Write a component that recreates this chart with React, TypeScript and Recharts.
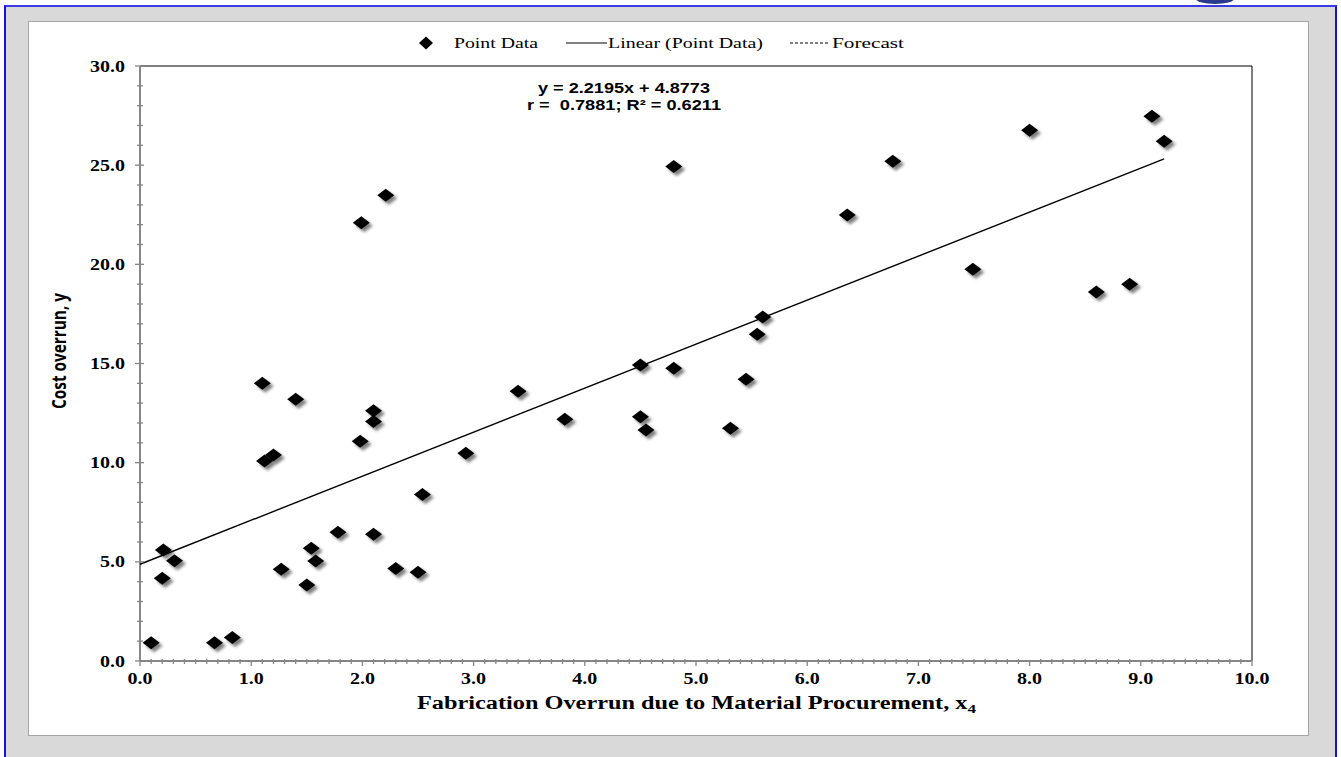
import React from 'react';
import { ScatterChart, Scatter, XAxis, YAxis, ReferenceLine, Legend } from 'recharts';

// ---- data ----
const pointX = [0.10, 0.20, 0.21, 0.31, 0.67, 0.83, 1.10, 1.12, 1.20, 1.27, 1.40, 1.50, 1.54, 1.58, 1.78, 1.98, 1.99, 2.10, 2.10, 2.10, 2.21, 2.30, 2.50, 2.54, 2.93, 3.40, 3.82, 4.50, 4.50, 4.55, 4.80, 4.80, 5.31, 5.45, 5.55, 5.60, 6.36, 6.77, 7.49, 8.00, 8.60, 8.90, 9.10, 9.21];
const pointY = [0.92, 4.17, 5.60, 5.06, 0.92, 1.19, 14.0, 10.09, 10.39, 4.62, 13.2, 3.83, 5.68, 5.04, 6.49, 11.08, 22.1, 12.62, 12.07, 6.39, 23.48, 4.67, 4.47, 8.40, 10.47, 13.6, 12.19, 14.93, 12.32, 11.65, 24.93, 14.76, 11.73, 14.2, 16.47, 17.35, 22.49, 25.2, 19.75, 26.76, 18.6, 19.0, 27.47, 26.2];

const slope = 2.2195;
const intercept = 4.8773;
const trendRange = [0, 9.21];

const xTickValues = Array.from({ length: 101 }, (_, i) => i / 10);
const yTickValues = Array.from({ length: 31 }, (_, i) => i);
const xDomain = [0, 10];
const yDomain = [0, 30];

const legendLabels = ['Point Data', 'Linear (Point Data)', 'Forecast'];
const equationLines = ['y = 2.2195x + 4.8773', 'r =  0.7881; R\u00B2 = 0.6211'];
const xTitle = 'Fabrication Overrun due to Material Procurement, x';
const xTitleSub = '4';
const yTitle = 'Cost overrun, y';

const points = pointX.map((x, i) => ({ x, y: pointY[i] }));
const trendData = trendRange.map((x) => ({ x, y: slope * x + intercept }));

const AXIS = '#868686';
const SERIF = '"Liberation Serif", "Times New Roman", serif';
const SANS = '"Liberation Sans", Arial, sans-serif';

function labelWidth(s: string, fs: number) {
  let w = 0;
  for (const ch of s) w += ch === '.' ? 0.25 : 0.5;
  return w * fs * 1.25;
}

function XTick(props: any) {
  const { x, y, payload } = props;
  const v = payload.value as number;
  const major = Math.round(v * 10) % 10 === 0;
  const label = v.toFixed(1);
  return (
    <g>
      <line x1={x} x2={x} y1={major ? y - 1 : y - 2} y2={major ? y + 5 : y + 3} stroke={AXIS} strokeWidth={1.3} />
      {major && (
        <text x={x} y={y + 23} textAnchor="middle" fontFamily={SERIF} fontWeight="bold" fontSize={16}
          textLength={labelWidth(label, 16)} lengthAdjust="spacingAndGlyphs" fill="#000">{label}</text>
      )}
    </g>
  );
}

function YTick(props: any) {
  const { x, y, payload } = props;
  const v = payload.value as number;
  const major = Math.round(v) % 5 === 0;
  const label = v.toFixed(1);
  return (
    <g>
      <line x1={major ? x - 5 : x - 3} x2={major ? x + 4 : x + 3} y1={y} y2={y} stroke={AXIS} strokeWidth={1.3} />
      {major && (
        <text x={x - 15} y={y + 5.5} textAnchor="end" fontFamily={SERIF} fontWeight="bold" fontSize={16}
          textLength={labelWidth(label, 16)} lengthAdjust="spacingAndGlyphs" fill="#000">{label}</text>
      )}
    </g>
  );
}

function Diamond(props: any) {
  const { cx, cy } = props;
  if (cx == null || cy == null) return <g />;
  const w = 8.5, h = 6.5;
  const pts = `${cx - w},${cy} ${cx},${cy - h} ${cx + w},${cy} ${cx},${cy + h}`;
  const spts = `${cx - w + 3},${cy + 3} ${cx + 3},${cy - h + 3} ${cx + w + 3},${cy + 3} ${cx + 3},${cy + h + 3}`;
  return (
    <g>
      <polygon points={spts} fill="rgba(0,0,0,0.5)" filter="url(#diaShadow)" />
      <polygon points={pts} fill="#000" />
    </g>
  );
}

function NoShape() {
  return <g />;
}

function LegendContent() {
  const ty = 48;
  return (
    <svg width={1341} height={60} style={{ display: 'block', overflow: 'visible' }}>
      <polygon points="419,43 426,36.5 433,43 426,49.5" fill="#000" />
      <text x={454} y={ty} fontFamily={SERIF} fontSize={15} textLength={84} lengthAdjust="spacingAndGlyphs" fill="#000">{legendLabels[0]}</text>
      <line x1={566} x2={607} y1={43} y2={43} stroke="#000" strokeWidth={1} />
      <text x={608} y={ty} fontFamily={SERIF} fontSize={15} textLength={155} lengthAdjust="spacingAndGlyphs" fill="#000">{legendLabels[1]}</text>
      <line x1={790} x2={828} y1={43} y2={43} stroke="#000" strokeWidth={1} strokeDasharray="3 2" />
      <text x={832} y={ty} fontFamily={SERIF} fontSize={15} textLength={72} lengthAdjust="spacingAndGlyphs" fill="#000">{legendLabels[2]}</text>
    </svg>
  );
}

export default function App() {
  return (
    <div style={{ position: 'absolute', left: 0, top: 0, width: 1341, height: 757, overflow: 'hidden', background: '#fff' }}>
      {/* frame */}
      <div style={{ position: 'absolute', left: 1196, top: -6, width: 38, height: 10, borderRadius: '50%', background: '#2a3a8c' }} />
      <div style={{ position: 'absolute', left: 4, top: 5, width: 1329, height: 770, background: '#d9d9d9', borderLeft: '2px solid #1414d2', borderTop: '2px solid #3a3ae0', borderRight: '2px solid #1414d2', boxSizing: 'content-box' }} />
      <div style={{ position: 'absolute', left: 28, top: 21, width: 1279, height: 713, background: '#fff', border: '1px solid #a6a6a6' }} />

      <svg width={0} height={0} style={{ position: 'absolute' }}>
        <defs>
          <filter id="diaShadow" x="-50%" y="-50%" width="200%" height="200%">
            <feGaussianBlur stdDeviation="1.7" />
          </filter>
        </defs>
      </svg>

      <div style={{ position: 'absolute', left: 0, top: 0 }}>
        <ScatterChart width={1341} height={757} margin={{ top: 66, right: 89, bottom: 0, left: 0 }}>
          <XAxis type="number" dataKey="x" domain={xDomain} ticks={xTickValues} interval={0}
            tick={XTick} tickLine={false} tickSize={0} tickMargin={0} height={96}
            axisLine={{ stroke: AXIS, strokeWidth: 2 }} />
          <YAxis type="number" dataKey="y" domain={yDomain} ticks={yTickValues} interval={0}
            tick={YTick} tickLine={false} tickSize={0} tickMargin={0} width={140}
            axisLine={{ stroke: AXIS, strokeWidth: 2 }} />
          <ReferenceLine y={30} stroke="#000" strokeWidth={1} />
          <ReferenceLine x={10} stroke="#000" strokeWidth={1} />
          <Legend verticalAlign="middle" layout="horizontal" content={LegendContent}
            wrapperStyle={{ position: 'absolute', left: 0, top: 0, width: 1341, height: 60, margin: 0, padding: 0 }} />
          <Scatter name="Linear (Point Data)" data={trendData} line={{ stroke: '#000', strokeWidth: 1.4 }}
            shape={NoShape} isAnimationActive={false} legendType="none" />
          <Scatter name="Point Data" data={points} shape={Diamond} isAnimationActive={false} />
        </ScatterChart>
      </div>

      <svg width={1341} height={757} style={{ position: 'absolute', left: 0, top: 0, pointerEvents: 'none' }}>
        <text x={624} y={93} textAnchor="middle" fontFamily={SANS} fontWeight="bold" fontSize={15}
          textLength={172} lengthAdjust="spacingAndGlyphs" fill="#000">{equationLines[0]}</text>
        <text x={624} y={110} textAnchor="middle" fontFamily={SANS} fontWeight="bold" fontSize={15}
          textLength={194} lengthAdjust="spacingAndGlyphs" fill="#000" style={{ whiteSpace: 'pre' }}>{equationLines[1]}</text>
        <text x={417} y={709} fontFamily={SERIF} fontWeight="bold" fontSize={18.5}
          textLength={559} lengthAdjust="spacingAndGlyphs" fill="#000">
          {xTitle}<tspan fontSize={13} dy={4}>{xTitleSub}</tspan>
        </text>
        <g transform="translate(66,351) scale(1.3,1) rotate(-90)">
          <text x={0} y={0} textAnchor="middle" fontFamily='"Open Sans", sans-serif' fontWeight="bold" fontSize={15}
            textLength={116} lengthAdjust="spacingAndGlyphs" fill="#000">{yTitle}</text>
        </g>
      </svg>
    </div>
  );
}
